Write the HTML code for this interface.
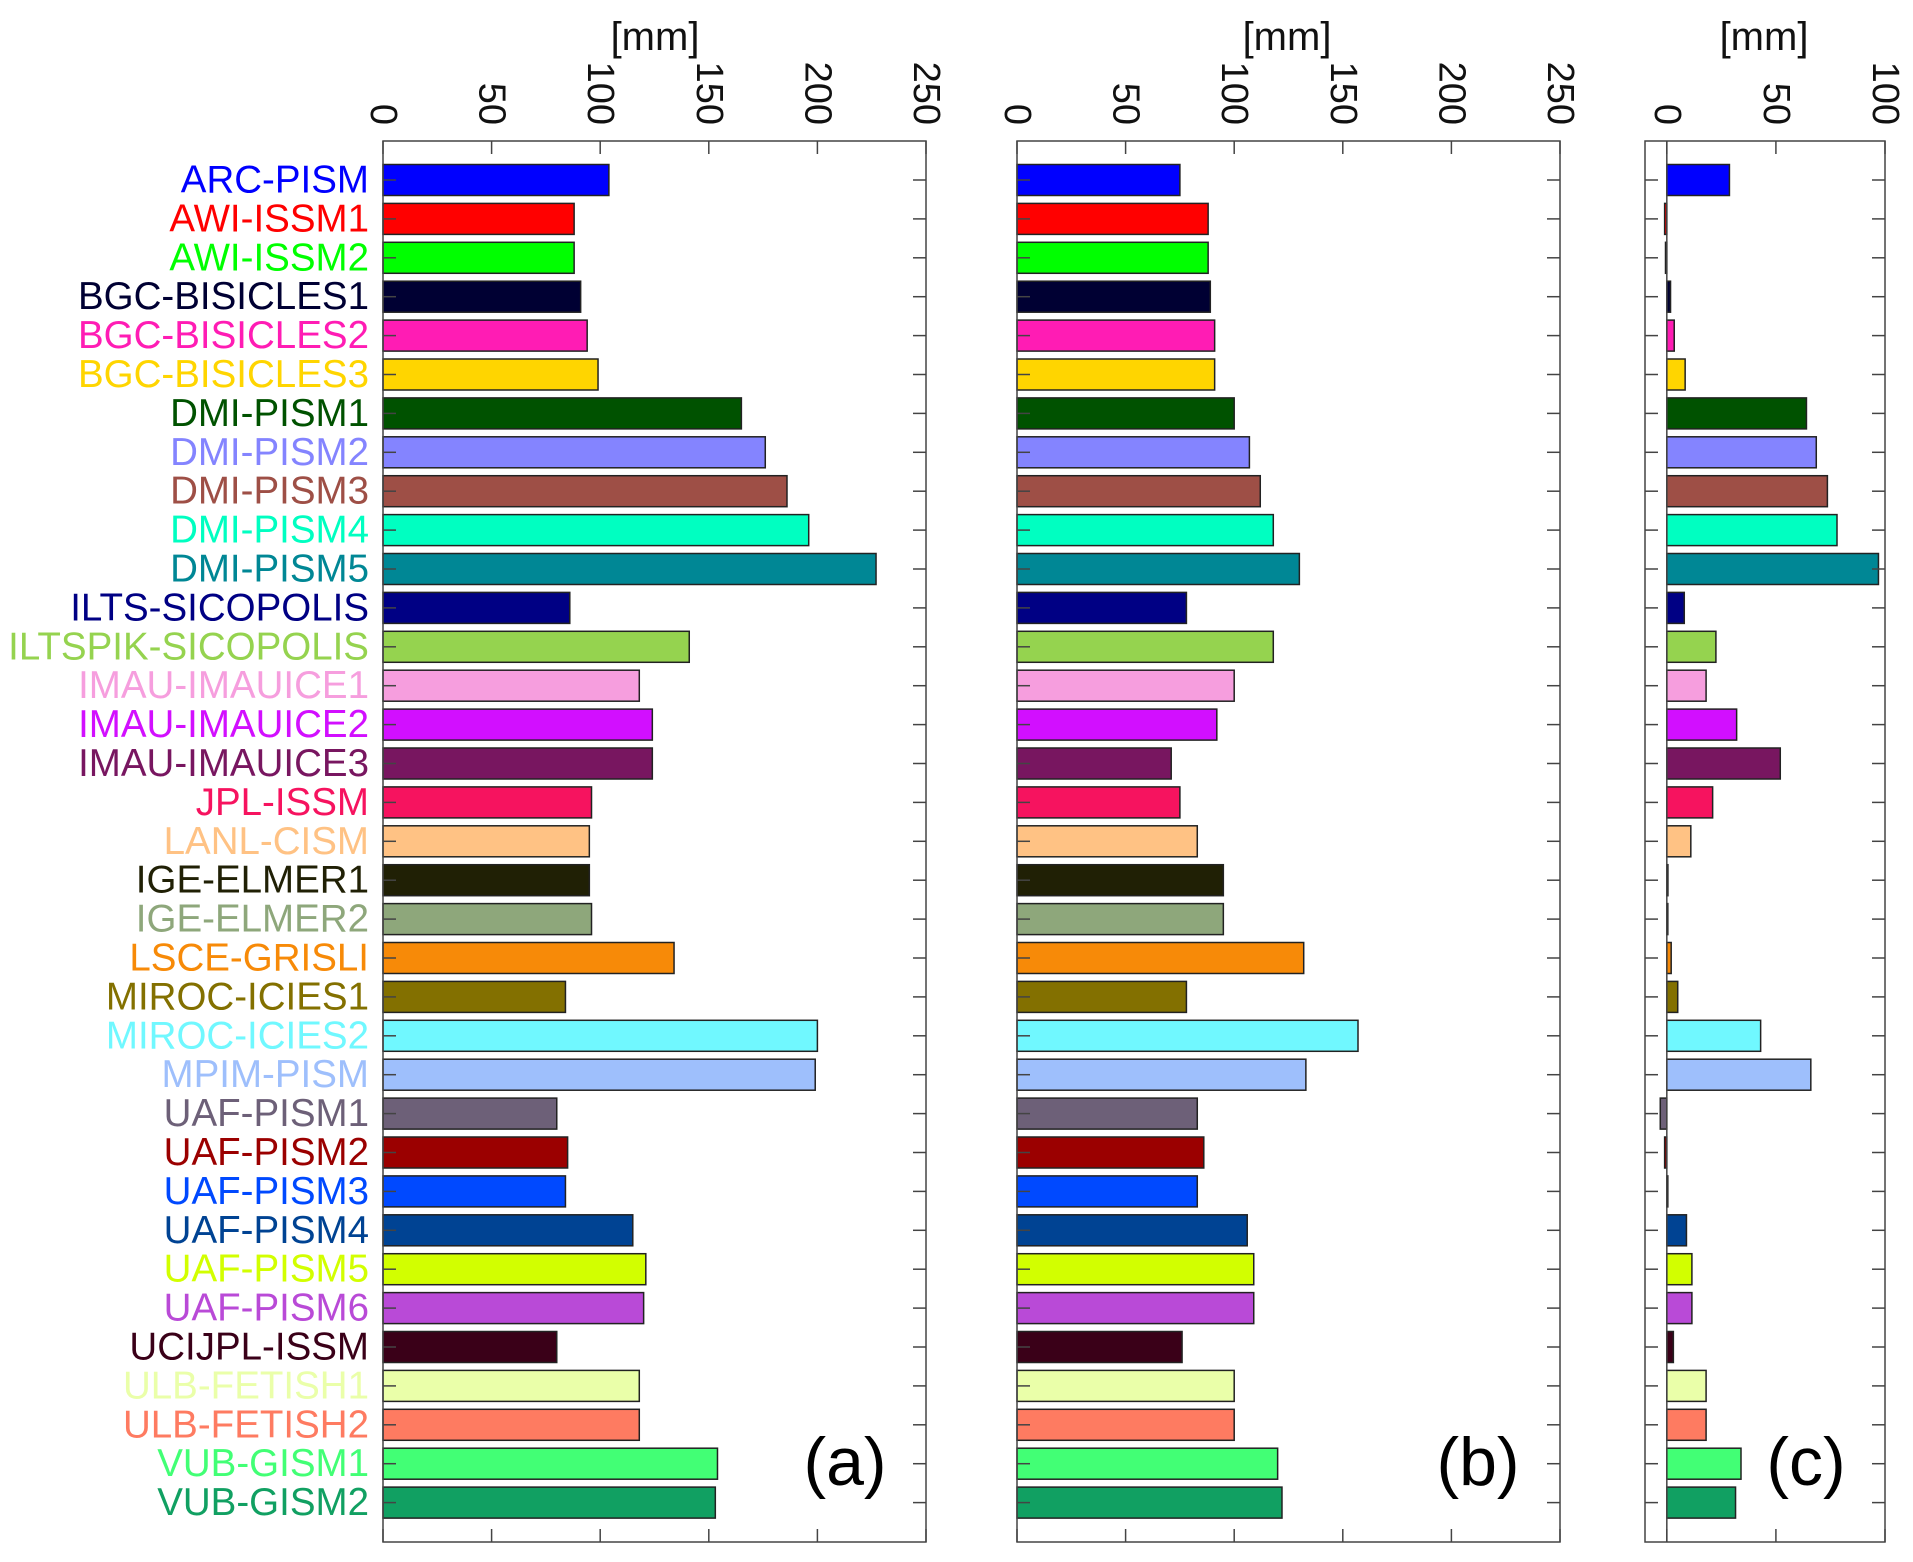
<!DOCTYPE html>
<html><head><meta charset="utf-8"><style>
body{margin:0;background:#fff;}
svg{display:block;font-family:"Liberation Sans",sans-serif;}
</style></head><body>
<svg id="chart" width="1913" height="1562" viewBox="0 0 1913 1562" xmlns="http://www.w3.org/2000/svg"></svg>
<script>
const models=["ARC-PISM","AWI-ISSM1","AWI-ISSM2","BGC-BISICLES1","BGC-BISICLES2","BGC-BISICLES3","DMI-PISM1","DMI-PISM2","DMI-PISM3","DMI-PISM4","DMI-PISM5","ILTS-SICOPOLIS","ILTSPIK-SICOPOLIS","IMAU-IMAUICE1","IMAU-IMAUICE2","IMAU-IMAUICE3","JPL-ISSM","LANL-CISM","IGE-ELMER1","IGE-ELMER2","LSCE-GRISLI","MIROC-ICIES1","MIROC-ICIES2","MPIM-PISM","UAF-PISM1","UAF-PISM2","UAF-PISM3","UAF-PISM4","UAF-PISM5","UAF-PISM6","UCIJPL-ISSM","ULB-FETISH1","ULB-FETISH2","VUB-GISM1","VUB-GISM2"];
const colors=["#0000ff","#ff0000","#00ff00","#000033","#ff1cb4","#ffd500","#005200","#8484ff","#9e4f46","#00ffc1","#008795","#000084","#95d34f","#f69ede","#d20fff","#781660","#f6135f","#ffc284","#202005","#8ea77b","#f78a08","#837000","#70f8ff","#9ebffc","#6d6078","#9b0000","#0049ff","#004393","#d2ff00","#b94ad7","#3a0018","#eaffa9","#fe7b61","#42ff75","#11a062"];
const valuesA=[104,88,88,91,94,99,165,176,186,196,227,86,141,118,124,124,96,95,95,96,134,84,200,199,80,85,84,115,121,120,80,118,118,154,153];
const valuesB=[75,88,88,89,91,91,100,107,112,118,130,78,118,100,92,71,75,83,95,95,132,78,157,133,83,86,83,106,109,109,76,100,100,120,122];
const valuesC=[28.7,-1,-0.6,1.7,3.4,8.4,64,68.5,73.6,78,97,8,22.5,18,32,52,21,11,0.5,0.4,2,5,43,66,-3,-1,0.4,9,11.5,11.5,3,18,18,34,31.5];
const ticksAB=[0,50,100,150,200,250];
const ticksC=[0,50,100];
const NS="http://www.w3.org/2000/svg";
const svg=document.getElementById('chart');
function el(tag,attrs,parent){const e=document.createElementNS(NS,tag);for(const k in attrs)e.setAttribute(k,attrs[k]);(parent||svg).appendChild(e);return e;}
const top0=141,bot0=1542,step=38.9,first=180,barH=31;
function yPos(i){return first+i*step;}
const panels=[
 {id:"a",x0:383,x1:926,min:0,max:250,vals:valuesA,ticks:ticksAB,unitX:655,lab:"(a)",labX:845},
 {id:"b",x0:1017,x1:1560,min:0,max:250,vals:valuesB,ticks:ticksAB,unitX:1287,lab:"(b)",labX:1478},
 {id:"c",x0:1645,x1:1885,min:-10,max:100,vals:valuesC,ticks:ticksC,unitX:1764,lab:"(c)",labX:1806}
];
models.forEach((m,i)=>{
 const t=el('text',{x:369,y:yPos(i),'text-anchor':'end','dominant-baseline':'central','font-size':38.5,fill:colors[i]});
 
 
 t.textContent=m;
});
panels.forEach(p=>{
 const g=el('g',{});
 
 
 const sx=v=>p.x0+(v-p.min)/(p.max-p.min)*(p.x1-p.x0);
 p.vals.forEach((v,i)=>{
  const a=sx(0),b=sx(v);
  const r=el('rect',{x:Math.min(a,b),y:yPos(i)-barH/2,width:Math.max(Math.abs(b-a),1),height:barH,fill:colors[i],stroke:'#222','stroke-width':1.5},g);
  
  
 });
 if(p.min<0){const z=el('line',{x1:sx(0),x2:sx(0),y1:top0,y2:bot0,stroke:'#444','stroke-width':1.5},g);
  
  }
 const f=el('rect',{x:p.x0,y:top0,width:p.x1-p.x0,height:bot0-top0,fill:'none',stroke:'#444','stroke-width':1.5},g);
 
 
 p.ticks.forEach(t=>{
  const x=sx(t);
  el('line',{x1:x,x2:x,y1:top0,y2:top0+13,stroke:'#444','stroke-width':1.5},g);
  el('line',{x1:x,x2:x,y1:bot0,y2:bot0-13,stroke:'#444','stroke-width':1.5},g);
  const tl=el('text',{x:x,y:125,'text-anchor':'end','dominant-baseline':'central','font-size':38,fill:'#111',transform:`rotate(90 ${x} 125)`},g);
  
  
  tl.textContent=t;
 });
 models.forEach((m,i)=>{
  const y=yPos(i);
  el('line',{x1:p.x0,x2:p.x0+13,y1:y,y2:y,stroke:'#444','stroke-width':1.5},g);
  el('line',{x1:p.x1,x2:p.x1-13,y1:y,y2:y,stroke:'#444','stroke-width':1.5},g);
 });
 const u=el('text',{x:p.unitX,y:37,'text-anchor':'middle','dominant-baseline':'central','font-size':40,fill:'#111'},g);
 
 
 u.textContent='[mm]';
 const pl=el('text',{x:p.labX,y:1462,'text-anchor':'middle','dominant-baseline':'central','font-size':68,fill:'#000'},g);
 
 
 pl.textContent=p.lab;
});
</script>
</body></html>
